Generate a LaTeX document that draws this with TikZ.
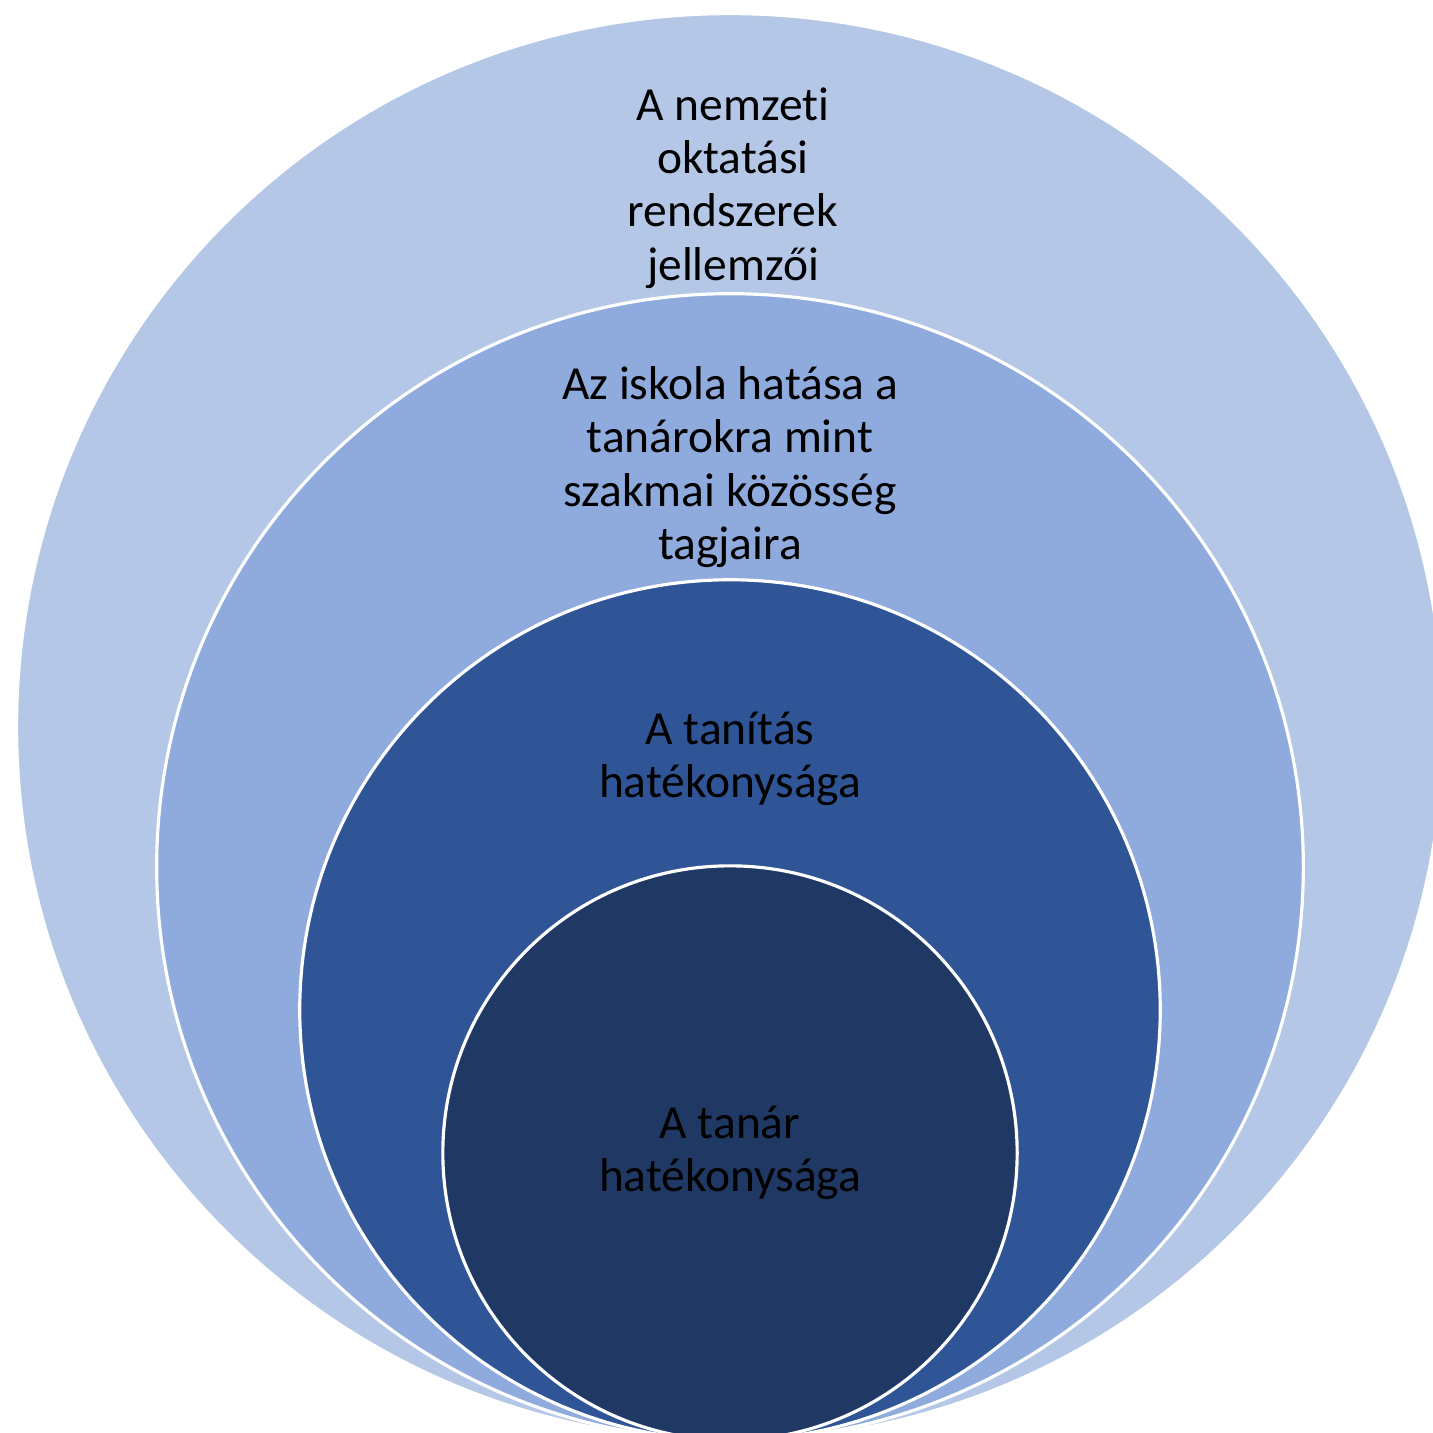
\documentclass[tikz,border=0pt]{standalone}
\usepackage{fontspec}
\setmainfont{Carlito}[Ligatures=NoCommon]
\usepackage{tikz}
\usetikzlibrary{positioning}
\definecolor{ringA}{HTML}{B4C7E7}
\definecolor{ringB}{HTML}{8FAADC}
\definecolor{ringC}{HTML}{2F5597}
\definecolor{ringD}{HTML}{203864}
\begin{document}
\begin{tikzpicture}[
  x=0.01cm,y=-0.01cm,
  ring/.style={circle,draw=white,line width=0.9pt,inner sep=0pt},
  lbl/.style={align=center,text=black,font=\fontsize{13.5}{15.2}\selectfont}]
\useasboundingbox (0,0) rectangle (1432,1433);
\node[ring,fill=ringA,minimum size=14.26cm] (nat) at (730,727) {};
\node[ring,fill=ringB,minimum size=11.46cm] (school) at (730,867) {};
\node[ring,fill=ringC,minimum size=8.60cm] (teach) at (730,1010) {};
\node[ring,fill=ringD,minimum size=5.74cm] (teacher) at (730,1153) {};
\node[lbl] (natT) at (733,188) {A nemzeti\\oktatási\\rendszerek\\jellemzői};
\node[lbl] (schoolT) at (730,467) {Az iskola hatása a\\tanárokra mint\\szakmai közösség\\tagjaira};
\node[lbl] (teachT) at (730,759) {A tanítás\\hatékonysága};
\node[lbl] (teacherT) at (730,1153) {A tanár\\hatékonysága};
\end{tikzpicture}
\end{document}
